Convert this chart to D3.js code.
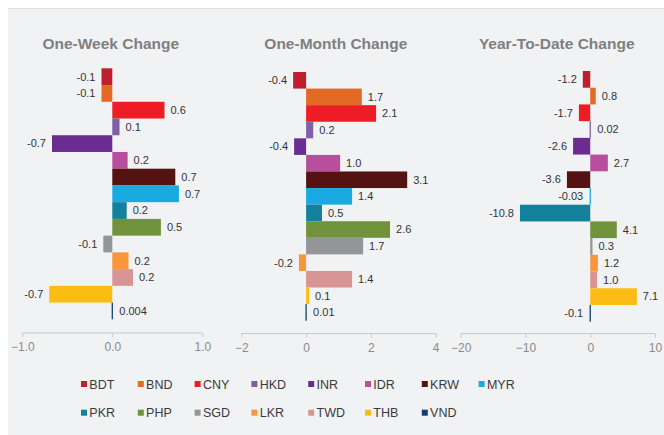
<!DOCTYPE html>
<html><head><meta charset="utf-8">
<script src="https://cdn.jsdelivr.net/npm/d3@7"></script>
<style>
html,body{margin:0;padding:0;background:#fff;}
svg{display:block;font-family:"Liberation Sans",Arial,sans-serif;}
</style></head>
<body>
<svg id="chart" width="664" height="435"></svg>
<script>
const currencies = ["BDT","BND","CNY","HKD","INR","IDR","KRW","MYR","PKR","PHP","SGD","LKR","TWD","THB","VND"];
const colors = ["#be1e2d","#e36a25","#ee1c25","#7f5fa6","#6a2c91","#b84f9e","#541212","#1aaae2","#12819c","#70923b","#939598","#f7963b","#d99594","#fbbd13","#123f73"];
const panelTitles = ["One-Week Change","One-Month Change","Year-To-Date Change"];
const weekValues  = [-0.12,-0.12,0.58,0.08,-0.67,0.17,0.70,0.74,0.16,0.54,-0.10,0.18,0.23,-0.70,0.004];
const weekLabels  = ["-0.1","-0.1","0.6","0.1","-0.7","0.2","0.7","0.7","0.2","0.5","-0.1","0.2","0.2","-0.7","0.004"];
const monthValues = [-0.40,1.72,2.16,0.22,-0.37,1.05,3.12,1.42,0.49,2.59,1.76,-0.22,1.42,0.09,0.01];
const monthLabels = ["-0.4","1.7","2.1","0.2","-0.4","1.0","3.1","1.4","0.5","2.6","1.7","-0.2","1.4","0.1","0.01"];
const ytdValues   = [-1.15,0.85,-1.75,0.02,-2.65,2.72,-3.6,-0.03,-10.85,4.1,0.35,1.18,1.05,7.2,-0.1];
const ytdLabels   = ["-1.2","0.8","-1.7","0.02","-2.6","2.7","-3.6","-0.03","-10.8","4.1","0.3","1.2","1.0","7.1","-0.1"];
const weekTicks  = [-1.0,0.0,1.0];
const monthTicks = [-2,0,2,4];
const ytdTicks   = [-20,-10,0,10];

const panels = [
  {title:panelTitles[0], values:weekValues, labels:weekLabels, domain:[-1,1], ticks:weekTicks, fmt:d3.format(".1f"), x0:22.3, x1:202.3, y0:68.3, y1:319.3, axisY:333, cx:110.8},
  {title:panelTitles[1], values:monthValues, labels:monthLabels, domain:[-2,4], ticks:monthTicks, fmt:d3.format("d"), x0:241.3, x1:435.7, y0:72, y1:320.7, axisY:333.5, cx:335.8},
  {title:panelTitles[2], values:ytdValues, labels:ytdLabels, domain:[-20,10], ticks:ytdTicks, fmt:d3.format("d"), x0:460.7, x1:655, y0:71, y1:321.7, axisY:333.5, cx:556.7}
];

const svg = d3.select("#chart");
svg.append("rect").attr("x",8).attr("y",8).attr("width",656).attr("height",427).attr("fill","#f1f2f4");
svg.append("line").attr("x1",8).attr("x2",664).attr("y1",8.5).attr("y2",8.5).attr("stroke","#dde3e8").attr("stroke-width",1);

panels.forEach(p => {
  const g = svg.append("g");
  const x = d3.scaleLinear().domain(p.domain).range([p.x0,p.x1]);
  const y = d3.scaleBand().domain(currencies).range([p.y0,p.y1]).padding(0);
  g.append("text").attr("x",p.cx).attr("y",48.5).attr("text-anchor","middle")
    .attr("font-size","15.5px").attr("font-weight","bold").attr("fill","#7f7f7f").text(p.title);
  const data = currencies.map((c,i)=>({c, v:p.values[i], l:p.labels[i], col:colors[i]}));
  g.selectAll("rect.bar").data(data).join("rect").attr("class","bar")
    .attr("x", d => { const w = Math.abs(x(d.v)-x(0)); return w<1.3 ? x(0)-0.65 : Math.min(x(0),x(d.v)); })
    .attr("width", d => Math.max(1.3, Math.abs(x(d.v)-x(0))))
    .attr("y", d => y(d.c)).attr("height", y.bandwidth())
    .attr("fill", d => d.col);
  g.selectAll("text.val").data(data).join("text").attr("class","val")
    .attr("x", d => d.v >= 0 ? Math.max(x(d.v), x(0)+1) + 6 : Math.min(x(d.v), x(0)-1) - 6)
    .attr("y", d => y(d.c) + y.bandwidth()/2)
    .attr("dy","0.35em")
    .attr("text-anchor", d => d.v >= 0 ? "start" : "end")
    .attr("font-size","11px").attr("fill","#333").text(d => d.l);
  const axis = d3.axisBottom(x).tickValues(p.ticks).tickFormat(p.fmt).tickSize(4).tickSizeOuter(0);
  const ag = g.append("g").attr("transform",`translate(0,${p.axisY})`).call(axis);
  ag.select(".domain").attr("stroke","#c9c9c9").attr("d",`M${p.x0},0H${p.x1}`);
  ag.selectAll(".tick line").attr("stroke","#c9c9c9");
  ag.selectAll(".tick text").attr("fill","#8a8a8a").attr("font-size","12px")
    .attr("font-family","Liberation Sans, Arial, sans-serif").attr("dy","0.95em");
});

const lg = svg.append("g");
const leg = lg.selectAll("g").data(currencies).join("g")
  .attr("transform",(d,i)=>`translate(${81 + (i%8)*56.8},${i<8 ? 384 : 412.7})`);
leg.append("rect").attr("x",0).attr("y",-3).attr("width",6).attr("height",6).attr("fill",(d,i)=>colors[i]);
leg.append("text").attr("x",8.3).attr("y",0).attr("dy","0.36em").attr("font-size","12.5px").attr("fill","#3a3a3a").text(d=>d);
</script>
</body></html>
